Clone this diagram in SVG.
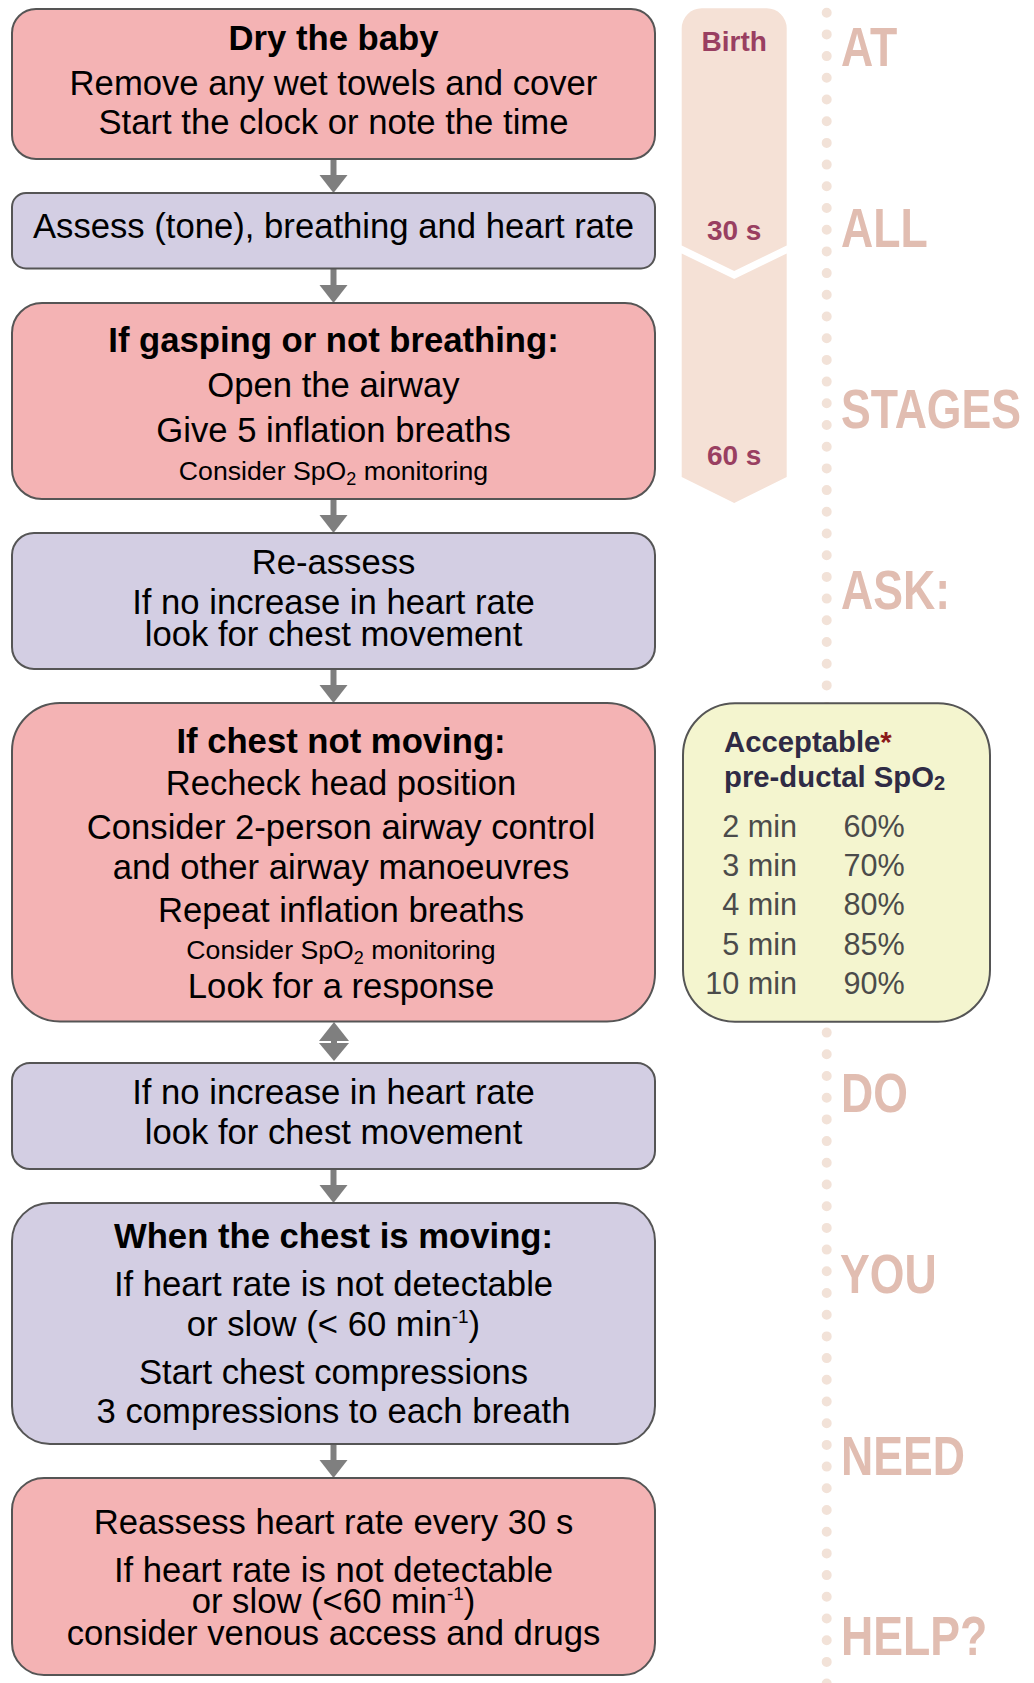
<svg xmlns="http://www.w3.org/2000/svg" width="1034" height="1683" viewBox="0 0 1034 1683">
<defs>
<style>
text{font-family:"Liberation Sans",Arial,sans-serif;}
.pink{fill:#f4b3b4;stroke:#555;stroke-width:2;}
.lav{fill:#d3cee3;stroke:#555;stroke-width:2;}
.t{font-size:34.67px;fill:#000;text-anchor:middle;}
.b{font-weight:bold;}
.s{font-size:26.67px;fill:#000;text-anchor:middle;}
.stem{stroke:#7f7f7f;stroke-width:6;fill:none;}
.head{fill:#7f7f7f;}
.side{font-size:44.6px;font-weight:bold;fill:#e1bdb1;}
.tl{font-size:28px;font-weight:bold;fill:#993f61;text-anchor:middle;}
.hdr{font-size:29.3px;font-weight:bold;fill:#2f2b45;}
.row{font-size:30.6px;fill:#4b4b4b;}
</style>
</defs>
<rect width="1034" height="1683" fill="#fff"/>

<g id="timeline">
<path d="M681.7 28.3 A20 20 0 0 1 701.7 8.3 L766.7 8.3 A20 20 0 0 1 786.7 28.3 L786.7 245.5 L734.2 271 L681.7 245.5 Z" fill="#f5e1d6"/>
<path d="M681.7 253.5 L734.2 279 L786.7 253.5 L786.7 477 L734.2 503 L681.7 477 Z" fill="#f5e1d6"/>
<text class="tl" x="734.2" y="50.7">Birth</text>
<text class="tl" x="734.2" y="240">30 s</text>
<text class="tl" x="734.2" y="465">60 s</text>
</g>

<g id="dotted-line">
<line x1="826.7" y1="12.7" x2="826.7" y2="1690" stroke="#f2e2d8" stroke-width="10" stroke-linecap="round" stroke-dasharray="0 21.7"/>
</g>

<g id="side-words">
<text class="side" transform="translate(841 66) scale(1 1.25)">AT</text>
<text class="side" transform="translate(841 247) scale(1 1.25)">ALL</text>
<text class="side" transform="translate(841 428) scale(1 1.25)">STAGES</text>
<text class="side" transform="translate(841 609) scale(1 1.25)">ASK:</text>
<text class="side" transform="translate(841 1112) scale(1 1.25)">DO</text>
<text class="side" transform="translate(840 1293) scale(1 1.25)">YOU</text>
<text class="side" transform="translate(841 1475) scale(1 1.25)">NEED</text>
<text class="side" transform="translate(841 1655) scale(1 1.25)">HELP?</text>
</g>

<g id="connectors">
<line class="stem" x1="333.5" y1="159" x2="333.5" y2="177"/>
<polygon class="head" points="319.5,175 347.5,175 333.5,193"/>
<line class="stem" x1="333.5" y1="268.5" x2="333.5" y2="287"/>
<polygon class="head" points="319.5,285 347.5,285 333.5,303"/>
<line class="stem" x1="333.5" y1="499" x2="333.5" y2="517"/>
<polygon class="head" points="319.5,515 347.5,515 333.5,533"/>
<line class="stem" x1="333.5" y1="669" x2="333.5" y2="687"/>
<polygon class="head" points="319.5,685 347.5,685 333.5,703"/>
<polygon class="head" points="334,1022 319,1041 349,1041"/>
<line class="stem" x1="334" y1="1040" x2="334" y2="1044"/>
<polygon class="head" points="319,1043 349,1043 334,1061"/>
<line class="stem" x1="333.5" y1="1169" x2="333.5" y2="1187"/>
<polygon class="head" points="319.5,1185 347.5,1185 333.5,1203"/>
<line class="stem" x1="333.5" y1="1444" x2="333.5" y2="1462"/>
<polygon class="head" points="319.5,1460 347.5,1460 333.5,1478"/>
</g>

<g id="dry">
<rect class="pink" x="12" y="9" width="643" height="150" rx="24"/>
<text class="t b" x="333.5" y="50">Dry the baby</text>
<text class="t" x="333.5" y="94.5">Remove any wet towels and cover</text>
<text class="t" x="333.5" y="133.5">Start the clock or note the time</text>
</g>

<g id="assess">
<rect class="lav" x="12" y="193" width="643" height="75.5" rx="14"/>
<text class="t" x="333.5" y="237.5">Assess (tone), breathing and heart rate</text>
</g>

<g id="gasping">
<rect class="pink" x="12" y="303" width="643" height="196" rx="30"/>
<text class="t b" x="333.5" y="352">If gasping or not breathing:</text>
<text class="t" x="333.5" y="396.5">Open the airway</text>
<text class="t" x="333.5" y="441.5">Give 5 inflation breaths</text>
<text class="s" x="333.5" y="479.5">Consider SpO<tspan font-size="18" dy="5">2</tspan><tspan dy="-5"> monitoring</tspan></text>
</g>

<g id="reassess">
<rect class="lav" x="12" y="533" width="643" height="136" rx="22"/>
<text class="t" x="333.5" y="573.5">Re-assess</text>
<text class="t" x="333.5" y="614">If no increase in heart rate</text>
<text class="t" x="333.5" y="646">look for chest movement</text>
</g>

<g id="chest-not-moving">
<rect class="pink" x="12" y="703" width="643" height="318.5" rx="48"/>
<text class="t b" x="341" y="753">If chest not moving:</text>
<text class="t" x="341" y="794.5">Recheck head position</text>
<text class="t" x="341" y="839">Consider 2-person airway control</text>
<text class="t" x="341" y="879">and other airway manoeuvres</text>
<text class="t" x="341" y="922">Repeat inflation breaths</text>
<text class="s" x="341" y="959">Consider SpO<tspan font-size="18" dy="5">2</tspan><tspan dy="-5"> monitoring</tspan></text>
<text class="t" x="341" y="998">Look for a response</text>
</g>

<g id="no-increase">
<rect class="lav" x="12" y="1063" width="643" height="106" rx="18"/>
<text class="t" x="333.5" y="1104">If no increase in heart rate</text>
<text class="t" x="333.5" y="1144">look for chest movement</text>
</g>

<g id="chest-moving">
<rect class="lav" x="12" y="1203" width="643" height="241" rx="38"/>
<text class="t b" x="333.5" y="1248">When the chest is moving:</text>
<text class="t" x="333.5" y="1296">If heart rate is not detectable</text>
<text class="t" x="333.5" y="1335.5">or slow (&lt; 60 min<tspan font-size="19" dy="-13">-1</tspan><tspan dy="13">)</tspan></text>
<text class="t" x="333.5" y="1383.5">Start chest compressions</text>
<text class="t" x="333.5" y="1423">3 compressions to each breath</text>
</g>

<g id="reassess-30s">
<rect class="pink" x="12" y="1478" width="643" height="197" rx="32"/>
<text class="t" x="333.5" y="1534">Reassess heart rate every 30 s</text>
<text class="t" x="333.5" y="1582">If heart rate is not detectable</text>
<text class="t" x="333.5" y="1612.5">or slow (&lt;60 min<tspan font-size="19" dy="-13">-1</tspan><tspan dy="13">)</tspan></text>
<text class="t" x="333.5" y="1644.5">consider venous access and drugs</text>
</g>

<g id="spo2">
<rect x="683" y="703.3" width="307" height="318.4" rx="52" fill="#f4f5cf" stroke="#555" stroke-width="2"/>
<text class="hdr" x="724" y="751.5">Acceptable<tspan fill="#8b1a1a">*</tspan></text>
<text class="hdr" x="724" y="787">pre-ductal SpO<tspan font-size="20" dy="3">2</tspan></text>
<g class="row">
<text class="row" x="797" y="836.5" text-anchor="end">2 min</text>
<text class="row" x="843.5" y="836.5">60%</text>
<text class="row" x="797" y="875.5" text-anchor="end">3 min</text>
<text class="row" x="843.5" y="875.5">70%</text>
<text class="row" x="797" y="915" text-anchor="end">4 min</text>
<text class="row" x="843.5" y="915">80%</text>
<text class="row" x="797" y="954.5" text-anchor="end">5 min</text>
<text class="row" x="843.5" y="954.5">85%</text>
<text class="row" x="797" y="994" text-anchor="end">10 min</text>
<text class="row" x="843.5" y="994">90%</text>
</g>
</g>
</svg>
